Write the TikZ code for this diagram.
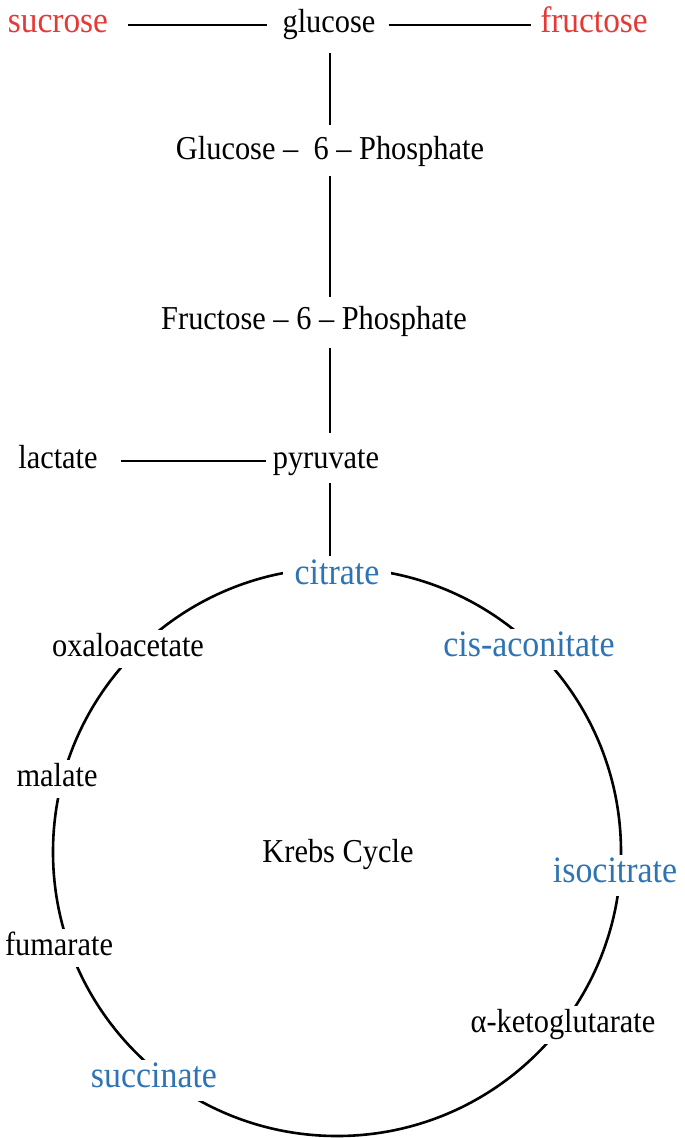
\documentclass[tikz,border=0pt]{standalone}
\usepackage{fontspec}
\setmainfont{Liberation Serif}
\usepackage{graphicx}
\definecolor{sugred}{HTML}{E53935}
\definecolor{cycblue}{HTML}{2E74B5}
\newcommand{\vstr}[1]{\scalebox{1}[1.1]{#1}}
\begin{document}
\begin{tikzpicture}[x=1bp,y=-1bp,
  lbl/.style={inner sep=0pt, text height=21bp, text depth=7bp, font=\fontsize{30.5}{34}\selectfont},
  big/.style={text height=23bp, text depth=8bp},
  sugar/.style={lbl, big, text=sugred, font=\fontsize{33.5}{38}\selectfont},
  onring/.style={fill=white, inner xsep=12bp, inner ysep=5bp},
  hot/.style={lbl, big, text=cycblue, font=\fontsize{34}{38}\selectfont, onring},
  cold/.style={lbl, onring},
  conn/.style={line width=2.8bp, line cap=butt}
]
\useasboundingbox (0,0) rectangle (685,1138);
% Krebs ring
\draw[line width=2.6bp] (337,852) circle[radius=284bp];
% top row
\node[sugar] (sucrose)  at (58,25)  {\vstr{sucrose}};
\node[lbl]   (glucose)  at (329,25) {\vstr{glucose}};
\node[sugar] (fructose) at (594,25) {\vstr{fructose}};
% glycolysis column
\node[lbl] (g6p) at (330,152) {\vstr{Glucose –\ \ 6 – Phosphate}};
\node[lbl] (f6p) at (314,322) {\vstr{Fructose – 6 – Phosphate}};
\node[lbl] (lactate)  at (58,461)  {\vstr{lactate}};
\node[lbl] (pyruvate) at (326,461) {\vstr{pyruvate}};
% cycle members
\node[hot]  (citrate)  at (337,577)  {\vstr{citrate}};
\node[cold] (oxalo)    at (128,649)  {\vstr{oxaloacetate}};
\node[hot]  (cisacon)  at (529,649)  {\vstr{cis-aconitate}};
\node[cold] (malate)   at (57,779)   {\vstr{malate}};
\node[lbl]  (krebs)    at (338,855)  {\vstr{Krebs Cycle}};
\node[hot]  (isocit)   at (615,875)  {\vstr{isocitrate}};
\node[cold] (fumarate) at (59,948)   {\vstr{fumarate}};
\node[cold] (akg)      at (563,1025) {\vstr{α-ketoglutarate}};
\node[hot]  (succ)     at (154,1080) {\vstr{succinate}};
% connectors
\coordinate (axis) at (330,0);
\draw[conn, shorten <=20bp, shorten >=15bp] (sucrose.east) -- (glucose.west);
\draw[conn, shorten <=13bp, shorten >=9bp] (glucose.east) -- (fructose.west);
\draw[conn, shorten <=14bp, shorten >=13bp] (glucose.south -| axis) -- (g6p.north -| axis);
\draw[conn, shorten <=10bp, shorten >=11bp] (g6p.south -| axis) -- (f6p.north -| axis);
\draw[conn, shorten <=12bp, shorten >=14bp] (f6p.south -| axis) -- (pyruvate.north -| axis);
\draw[conn, shorten <=23bp, shorten >=7bp] (lactate.east) -- (pyruvate.west);
\draw[conn, shorten <=8bp] (pyruvate.south -| axis) -- (citrate.north -| axis);
\end{tikzpicture}
\end{document}
